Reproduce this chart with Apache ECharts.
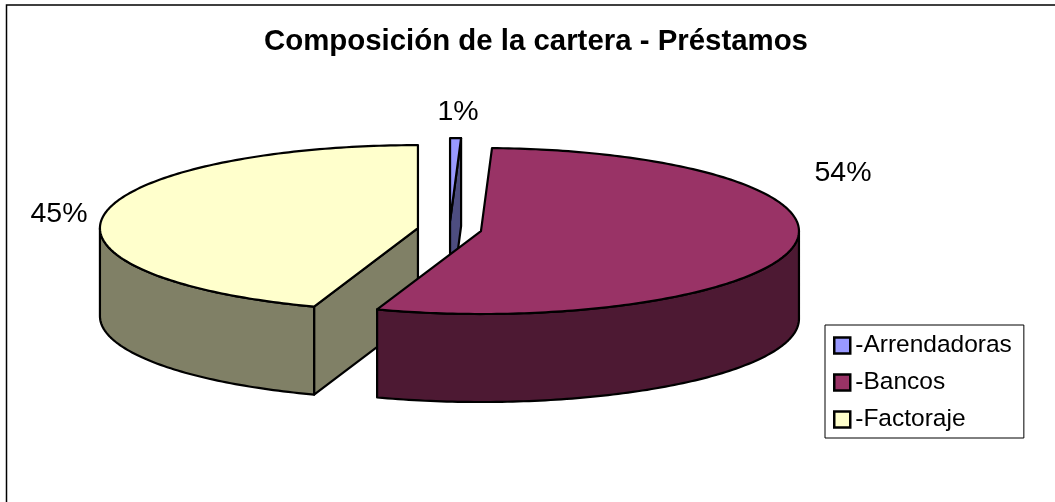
<!DOCTYPE html>
<html>
<head>
<meta charset="utf-8">
<style>
html,body{margin:0;padding:0;background:#fff;}
#chart{width:1055px;height:502px;}
</style>
<script src="https://cdn.jsdelivr.net/npm/echarts@6/dist/echarts.min.js"></script>
</head>
<body>
<div id="chart"></div>
<script>
const titleText = "Composición de la cartera - Préstamos";
const categories = ["Arrendadoras", "Bancos", "Factoraje"];
const shares = [0.55, 54.49, 44.5];
const topColors = ["#9999FF", "#993366", "#FFFFCC"];
const sideColors = ["#4D4D80", "#4D1933", "#808066"];

// where excel left the data labels
const labelPos = [[458, 112], [843, 173], [59, 214]];
// bancos has to sit over factoraje
const sliceZ = [2, 4, 3];

const FONT = '"Liberation Sans", Arial, sans-serif';
const pie = {cx: 449.5, cy: 229.5, rx: 318, ry: 83, depth: 88, explode: 32};
const total = shares.reduce((a, b) => a + b, 0);
const toRad = d => d * Math.PI / 180;

// angle is clockwise from 12 o'clock
function rim(ox, oy, deg, dz) {
    return [ox + pie.rx * Math.sin(toRad(deg)), oy - pie.ry * Math.cos(toRad(deg)) + dz];
}
function arc(ox, oy, from, to, dz) {
    let pts = [];
    let steps = Math.max(2, Math.ceil(Math.abs(to - from)));
    for (let i = 0; i <= steps; i++) {
        pts.push(rim(ox, oy, from + (to - from) * i / steps, dz));
    }
    return pts;
}
function poly(points, fill) {
    return {
        type: "polygon",
        shape: {points: points},
        style: {fill: fill, stroke: "#000", lineWidth: 2.2, lineJoin: "round"}
    };
}
function cutFace(ox, oy, deg, fill) {
    let a = rim(ox, oy, deg, 0), b = rim(ox, oy, deg, pie.depth);
    return poly([[ox, oy], a, b, [ox, oy + pie.depth]], fill);
}

function renderSlice(index) {
    return function (params, api) {
        let before = 0;
        for (let i = 0; i < index; i++) before += shares[i];
        let start = before / total * 360;
        let end = start + api.value(0) / total * 360;
        let mid = toRad((start + end) / 2);
        let ox = pie.cx + pie.explode * Math.sin(mid);
        let oy = pie.cy - pie.explode * pie.ry / pie.rx * Math.cos(mid);
        let children = [];
        // cut faces, only the ones turned to the viewer
        if (Math.sin(toRad(start)) < -1e-6) children.push(cutFace(ox, oy, start, sideColors[index]));
        if (Math.sin(toRad(end)) > 1e-6) children.push(cutFace(ox, oy, end, sideColors[index]));
        // outer wall, front half of the ellipse
        let wallFrom = Math.max(start, 90), wallTo = Math.min(end, 270);
        if (wallTo > wallFrom) {
            let upper = arc(ox, oy, wallFrom, wallTo, 0);
            let lower = arc(ox, oy, wallTo, wallFrom, pie.depth);
            children.push(poly(upper.concat(lower), sideColors[index]));
        }
        children.push(poly([[ox, oy]].concat(arc(ox, oy, start, end, 0)), topColors[index]));
        children.push({
            type: "text",
            z2: 10,
            style: {
                text: Math.round(api.value(0)) + "%",
                x: labelPos[index][0], y: labelPos[index][1],
                align: "center", verticalAlign: "middle",
                font: '28.5px ' + FONT, fill: "#000"
            }
        });
        return {type: "group", children: children};
    };
}

const chart = echarts.init(document.getElementById("chart"), null, {renderer: "canvas"});
chart.setOption({
    backgroundColor: "#fff",
    animation: false,
    title: {
        text: titleText,
        left: 531, top: 37,
        textAlign: "center", textVerticalAlign: "middle",
        textStyle: {fontFamily: FONT, fontWeight: "bold", fontSize: 29.4, color: "#000"}
    },
    legend: {
        orient: "vertical",
        left: 825, top: 325,
        padding: [8, 12, 6, 8],
        itemGap: 12,
        itemWidth: 16, itemHeight: 16,
        icon: "rect",
        borderColor: "#000", borderWidth: 1,
        backgroundColor: "#fff",
        formatter: name => "-" + name,
        textStyle: {fontFamily: FONT, fontSize: 24.5, lineHeight: 24, color: "#000"},
        itemStyle: {borderColor: "#000", borderWidth: 2.5},
        data: categories
    },
    graphic: [{
        type: "polyline",
        silent: true,
        shape: {points: [[6.5, 502], [6.5, 5], [1055, 5]]},
        style: {stroke: "#000", lineWidth: 1.5, fill: null}
    }],
    series: categories.map((name, i) => ({
        type: "custom",
        name: name,
        coordinateSystem: "none",
        z: sliceZ[i],
        itemStyle: {color: topColors[i]},
        renderItem: renderSlice(i),
        data: [[shares[i]]]
    }))
});
</script>
</body>
</html>
